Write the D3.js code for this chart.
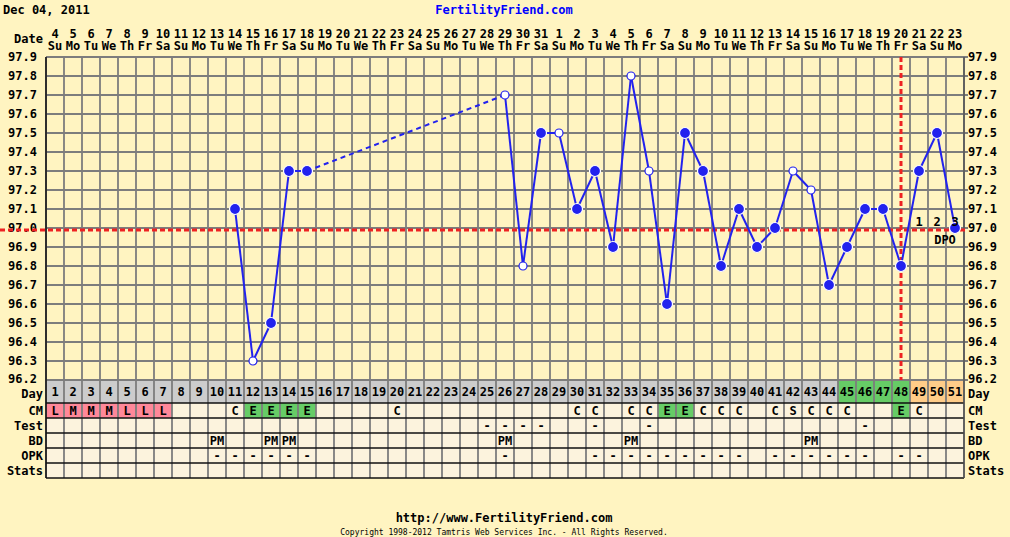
<!DOCTYPE html>
<html>
<head>
<meta charset="utf-8">
<script src="https://cdn.jsdelivr.net/npm/d3@7"></script>
<style>
	body { margin: 0; background: #fff4c1; }
	svg text { font-family: "DejaVu Sans Mono", monospace; font-weight: bold; }
</style>
</head>
<body>
<svg id="chart" width="1010" height="537"></svg>
<script>
// chart data
var startDate = new Date(2011, 11, 4);
var cycleDays = d3.range(1, 52);
var yTicks = [96.2, 96.3, 96.4, 96.5, 96.6, 96.7, 96.8, 96.9, 97.0, 97.1, 97.2, 97.3, 97.4, 97.5, 97.6, 97.7, 97.8, 97.9];

// temperature by cycle day (null = no reading)
var temps = [null, null, null, null, null, null, null, null, null, null,
	97.1, 96.3, 96.5, 97.3, 97.3, null, null, null, null, null,
	null, null, null, null, null, 97.7, 96.8, 97.5, 97.5, 97.1,
	97.3, 96.9, 97.8, 97.3, 96.6, 97.5, 97.3, 96.8, 97.1, 96.9,
	97.0, 97.3, 97.2, 96.7, 96.9, 97.1, 97.1, 96.8, 97.3, 97.5, 97.0];
// days whose reading is shown as an open circle
var openDays = [12, 26, 27, 29, 33, 34, 42, 43];
var coverline = 96.99;
var ovulationDay = 48;
var dpoDays = [49, 50, 51];

// table rows
var dayColors = { green: [45, 46, 47, 48], orange: [49, 50, 51] };
var cmValues = { 1: "L", 2: "M", 3: "M", 4: "M", 5: "L", 6: "L", 7: "L", 11: "C", 12: "E", 13: "E", 14: "E", 15: "E",
	20: "C", 30: "C", 31: "C", 33: "C", 34: "C", 35: "E", 36: "E", 37: "C", 38: "C", 39: "C",
	41: "C", 42: "S", 43: "C", 44: "C", 45: "C", 48: "E", 49: "C" };
var testDays = [25, 26, 27, 28, 31, 34, 46];
var bdDays = [10, 13, 14, 26, 33, 43];
var opkDays = [10, 11, 12, 13, 14, 15, 26, 31, 32, 33, 34, 35, 36, 37, 38, 39, 41, 42, 43, 44, 45, 46, 48, 49];
var rowNames = ["Day", "CM", "Test", "BD", "OPK", "Stats"];

var svg = d3.select("#chart");
var margin = { left: 46, right: 964, top: 57, bottom: 380 };
var rowH = [23, 15, 15, 15, 15, 15];
var rowTop = [380];
for (var r = 1; r < rowH.length; ++r) rowTop.push(rowTop[r - 1] + rowH[r - 1]);
var tableBottom = rowTop[5] + rowH[5];

var x = d3.scaleBand().domain(cycleDays).range([margin.left, margin.right]);
var cx = function(d) { return x(d) + x.bandwidth() / 2; };
var y = d3.scaleLinear().domain([96.2, 97.9]).range([margin.bottom, margin.top]);

var gridColor = "#7d7d7d";
var blue = "#2222ee";
var red = "#ee2222";

/*
header texts
*/
svg.append("text").attr("x", 3).attr("y", 14).attr("font-size", 12).attr("fill", "#000").text("Dec 04, 2011");
svg.append("text").attr("x", 504).attr("y", 14).attr("font-size", 12).attr("fill", "#0000ff")
	.attr("text-anchor", "middle").text("FertilityFriend.com");
svg.append("text").attr("x", 43).attr("y", 43).attr("font-size", 12).attr("text-anchor", "end").text("Date");

var fmtNum = d3.timeFormat("%-d"),
	fmtDay = d3.timeFormat("%a");
var header = svg.append("g").attr("class", "dates");
header.selectAll("text.num")
	.data(cycleDays).enter()
	.append("text").attr("class", "num")
	.attr("x", cx).attr("y", 38)
	.attr("font-size", 12).attr("text-anchor", "middle")
	.text(function(d) { return fmtNum(d3.timeDay.offset(startDate, d - 1)); });
header.selectAll("text.wd")
	.data(cycleDays).enter()
	.append("text").attr("class", "wd")
	.attr("x", cx).attr("y", 50)
	.attr("font-size", 12).attr("text-anchor", "middle")
	.text(function(d) { return fmtDay(d3.timeDay.offset(startDate, d - 1)).slice(0, 2); });

/*
table cell backgrounds
*/
var table = svg.append("g").attr("class", "table");
rowNames.forEach(function(name, ri) {
	table.selectAll("rect.r" + ri)
		.data(cycleDays).enter()
		.append("rect")
		.attr("x", function(d) { return x(d); })
		.attr("y", rowTop[ri])
		.attr("width", x.bandwidth())
		.attr("height", rowH[ri])
		.attr("fill", function(d) {
			if (ri === 0) {
				if (dayColors.green.indexOf(d) >= 0) return "#66cc66";
				if (dayColors.orange.indexOf(d) >= 0) return "#ffcc88";
				return "#cccccc";
			}
			if (ri === 1) {
				var v = cmValues[d];
				if (v === "L" || v === "M") return "#ff8899";
				if (v === "E") return "#66cc66";
			}
			return "#fcf3dd";
		});
});

/*
grid
*/
var grid = svg.append("g").attr("class", "grid");
grid.selectAll("line.h")
	.data(yTicks).enter()
	.append("line")
	.attr("x1", margin.left).attr("x2", margin.right + 4)
	.attr("y1", y).attr("y2", y)
	.attr("stroke", gridColor).attr("stroke-width", 1.8);
grid.selectAll("line.v")
	.data(cycleDays.concat([52])).enter()
	.append("line")
	.attr("x1", function(d) { return margin.left + (d - 1) * x.bandwidth(); })
	.attr("x2", function(d) { return margin.left + (d - 1) * x.bandwidth(); })
	.attr("y1", margin.top).attr("y2", tableBottom)
	.attr("stroke", gridColor).attr("stroke-width", 1.8);
// dark row separators in the table
grid.selectAll("line.row")
	.data(rowTop.slice(1).concat([tableBottom])).enter()
	.append("line")
	.attr("x1", margin.left).attr("x2", margin.right)
	.attr("y1", function(d) { return d; }).attr("y2", function(d) { return d; })
	.attr("stroke", "#111").attr("stroke-width", 1.5);
grid.append("line")
	.attr("x1", margin.left).attr("x2", margin.left)
	.attr("y1", margin.top).attr("y2", tableBottom)
	.attr("stroke", "#111").attr("stroke-width", 1.5);
grid.append("line")
	.attr("x1", margin.right).attr("x2", margin.right)
	.attr("y1", margin.top).attr("y2", tableBottom)
	.attr("stroke", "#555").attr("stroke-width", 1.5);

/*
axis labels both sides
*/
var yl = svg.append("g").attr("class", "ylabels");
yl.selectAll("text.left")
	.data(yTicks).enter()
	.append("text")
	.attr("x", 37).attr("y", function(d) { return y(d) - (d === 96.2 ? 1 : 0); }).attr("dy", "0.35em")
	.attr("font-size", 12).attr("text-anchor", "end")
	.text(d3.format(".1f"));
yl.selectAll("text.right")
	.data(yTicks).enter()
	.append("text")
	.attr("x", 968).attr("y", function(d) { return y(d) - (d === 96.2 ? 1 : 0); }).attr("dy", "0.35em")
	.attr("font-size", 12)
	.text(d3.format(".1f"));

/*
table texts
*/
rowNames.forEach(function(name, ri) {
	var cyMid = rowTop[ri] + rowH[ri] / 2 + (ri === 0 ? 2 : 0);
	svg.append("text").attr("x", 43).attr("y", cyMid).attr("dy", "0.35em")
		.attr("font-size", 12).attr("text-anchor", "end").text(name);
	svg.append("text").attr("x", 968).attr("y", cyMid).attr("dy", "0.35em")
		.attr("font-size", 12).text(name);
});
function rowText(ri, data, fn) {
	var cyMid = rowTop[ri] + rowH[ri] / 2;
	table.selectAll("text.t" + ri)
		.data(data).enter()
		.append("text")
		.attr("x", cx).attr("y", cyMid).attr("dy", "0.35em")
		.attr("font-size", 12).attr("text-anchor", "middle")
		.text(fn);
}
rowText(0, cycleDays, function(d) { return d; });
rowText(1, Object.keys(cmValues).map(Number), function(d) { return cmValues[d]; });
rowText(2, testDays, function() { return "-"; });
rowText(3, bdDays, function() { return "PM"; });
rowText(4, opkDays, function() { return "-"; });

/*
coverline and ovulation line
*/
svg.append("line")
	.attr("x1", 0).attr("x2", margin.right + 2)
	.attr("y1", y(coverline)).attr("y2", y(coverline))
	.attr("stroke", red).attr("stroke-width", 3).attr("stroke-dasharray", "5,3");
svg.append("line")
	.attr("x1", cx(ovulationDay)).attr("x2", cx(ovulationDay))
	.attr("y1", margin.top).attr("y2", margin.bottom)
	.attr("stroke", red).attr("stroke-width", 3).attr("stroke-dasharray", "5,3");

/*
temperature line
*/
var points = cycleDays.map(function(d, i) { return { day: d, t: temps[i] }; })
	.filter(function(p) { return p.t !== null; });
var segs = [];
for (var i = 1; i < points.length; ++i) {
	segs.push({ a: points[i - 1], b: points[i], gap: points[i].day - points[i - 1].day > 1 });
}
svg.append("g").selectAll("line")
	.data(segs).enter()
	.append("line")
	.attr("x1", function(s) { return cx(s.a.day); })
	.attr("y1", function(s) { return y(s.a.t); })
	.attr("x2", function(s) { return cx(s.b.day); })
	.attr("y2", function(s) { return y(s.b.t); })
	.attr("stroke", blue).attr("stroke-width", 2)
	.attr("stroke-dasharray", function(s) { return s.gap ? "5,4" : null; });

svg.append("g").selectAll("circle")
	.data(points).enter()
	.append("circle")
	.attr("cx", function(p) { return cx(p.day); })
	.attr("cy", function(p) { return y(p.t); })
	.attr("r", function(p) { return openDays.indexOf(p.day) >= 0 ? 4 : 5.5; })
	.attr("fill", function(p) { return openDays.indexOf(p.day) >= 0 ? "#ffffff" : blue; })
	.attr("stroke", function(p) { return openDays.indexOf(p.day) >= 0 ? blue : "#ffffff"; })
	.attr("stroke-width", 1.2);

/*
DPO labels
*/
svg.selectAll("text.dpo")
	.data(dpoDays).enter()
	.append("text")
	.attr("x", cx).attr("y", y(coverline) - 4)
	.attr("font-size", 12).attr("text-anchor", "middle")
	.text(function(d) { return d - ovulationDay; });
svg.append("text").attr("x", cx(50) + 8).attr("y", y(coverline) + 14)
	.attr("font-size", 12).attr("text-anchor", "middle").text("DPO");

/*
footer
*/
svg.append("text").attr("x", 504).attr("y", 522).attr("font-size", 12)
	.attr("text-anchor", "middle").text("http://www.FertilityFriend.com");
svg.append("text").attr("x", 504).attr("y", 535).attr("font-size", 8)
	.style("font-weight", "normal")
	.attr("text-anchor", "middle").text("Copyright 1998-2012 Tamtris Web Services Inc. - All Rights Reserved.");
</script>
</body>
</html>
